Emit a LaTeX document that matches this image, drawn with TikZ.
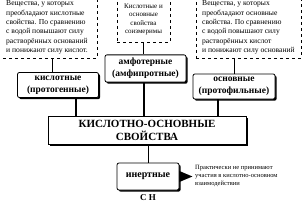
\documentclass[tikz,border=0pt]{standalone}
\usepackage{fontspec}
\setmainfont{Liberation Serif}
\usepackage{tikz}
\usetikzlibrary{positioning,calc,shadows}

\begin{document}
\begin{tikzpicture}[x=1pt, y=-1pt,
  note/.style={draw, dashed, thin, inner sep=2pt, font=\fontsize{7.6}{9.4}\selectfont},
  kind/.style={draw, fill=white, rounded corners=2pt, thick, font=\fontsize{9.5}{12}\selectfont\bfseries, align=center,
    drop shadow={shadow xshift=1.6pt, shadow yshift=-1.6pt, fill=black, opacity=1}},
  link/.style={line width=1.4pt}]
\useasboundingbox (0,0) rectangle (302,203);
% notes above
\node[note, minimum width=100pt, minimum height=61pt, align=left] (acidnote) at (47,27.5) {Вещества, у которых\\преобладают кислотные\\свойства. По сравнению\\с водой повышают силу\\растворённых оснований\\ и понижают силу кислот.};
\node[note, minimum width=53pt, minimum height=45pt, align=center, font=\fontsize{7}{8.3}\selectfont] (ampnote) at (143.5,19.5) {Кислотные и\\основные\\свойства\\соизмеримы};
\node[note, minimum width=105pt, minimum height=61pt, align=left] (basenote) at (248.5,27.5) {Вещества, у которых\\преобладают основные\\свойства. По сравнению\\с водой повышают силу\\растворённых кислот\\ и понижают силу оснований};
% kinds
\node[kind, minimum width=81pt, minimum height=22pt] (acid) at (58,85) {кислотные\\(протогенные)};
\node[kind, minimum width=81pt, minimum height=23pt] (amph) at (145.5,68.5) {амфотерные\\(амфипротные)};
\node[kind, minimum width=82pt, minimum height=23pt] (base) at (234,86.5) {основные\\(протофильные)};
\node[kind, rounded corners=0pt, minimum width=198pt, minimum height=28pt, font=\fontsize{11}{13}\selectfont\bfseries] (main) at (147,130) {КИСЛОТНО-ОСНОВНЫЕ\\СВОЙСТВА};
\node[kind, minimum width=62pt, minimum height=27pt, font=\fontsize{10}{12}\selectfont\bfseries] (inert) at (148,176.5) {инертные};
\node[font=\fontsize{9}{10}\selectfont\bfseries, inner sep=0pt] (ch) at (148,198) {С Н};
\node[anchor=west, align=left, inner sep=0pt, font=\fontsize{6.5}{7.6}\selectfont] (inertnote) at (195,176) {Практически не принимают\\участия в кислотно-основном\\взаимодействии};
% connectors
\draw ([xshift=-6pt]acid.north) -- ([xshift=-6pt]acid.north |- acidnote.south);
\draw (ampnote.south) -- (ampnote.south |- amph.north);
\draw (base.north) -- (base.north |- basenote.south);
\draw[link] ([xshift=18pt]acid.south) -- ([xshift=18pt]acid.south |- main.north);
\draw[link] ([xshift=-1.5pt]amph.south) -- ([xshift=-1.5pt]amph.south |- main.north);
\draw[link] ([xshift=-16pt]base.south) -- ([xshift=-16pt]base.south |- main.north);
\draw ([xshift=1pt]main.south) -- (inert.north);
\fill ([yshift=5.5pt]inert.east) -- ++(13,5.5) -- ++(-13,5.5) -- cycle;
\end{tikzpicture}
\end{document}
